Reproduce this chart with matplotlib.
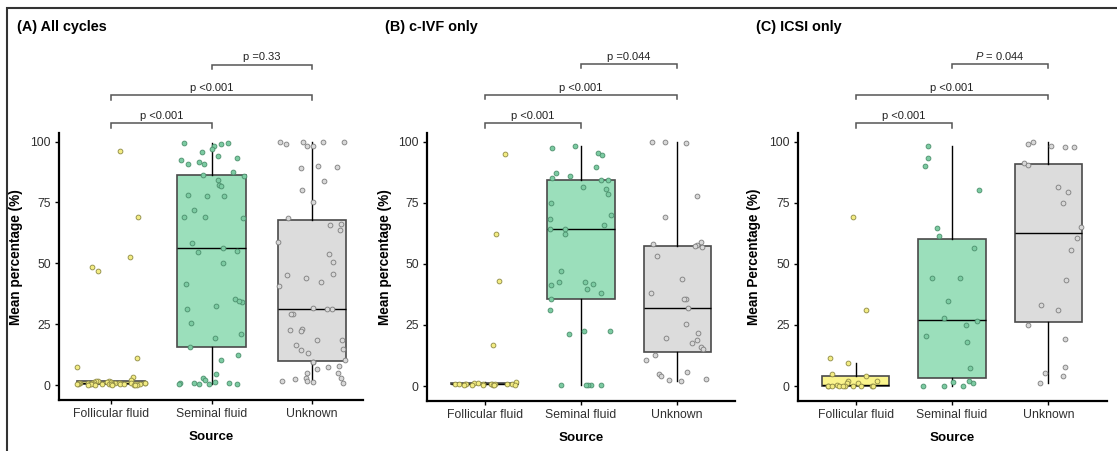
import numpy as np
import matplotlib
matplotlib.use("Agg")
import matplotlib.pyplot as plt
from matplotlib.patches import Rectangle

plt.rcParams['font.family'] = ['Liberation Sans', 'DejaVu Sans']
plt.rcParams['mathtext.fontset'] = 'custom'
plt.rcParams['mathtext.it'] = 'Liberation Sans:italic'
plt.rcParams['mathtext.rm'] = 'Liberation Sans'

# ---------------- data ----------------
categories = ["Follicular fluid", "Seminal fluid", "Unknown"]
panel_titles = ["(A) All cycles", "(B) c-IVF only", "(C) ICSI only"]
y_labels = ["Mean percentage (%)", "Mean percentage (%)", "Mean Percentage (%)"]
x_label = "Source"
y_ticks = [0, 25, 50, 75, 100]

# Panel A
a_follicular = [96.0, 69.1, 52.6, 48.6, 46.7, 11.1, 7.5, 3.4, 2.0, 1.8, 1.6, 1.5, 1.3,
                1.2, 1.1, 1.0, 1.0, 0.9, 0.9, 0.8, 0.8, 0.8, 0.7, 0.7, 0.7, 0.6, 0.6,
                0.6, 0.5, 0.5, 0.5, 0.5, 0.4, 0.4, 0.4, 0.3, 0.3, 0.3, 0.2, 0.2, 0.1,
                0.1, 0.0, 0.0]
a_seminal = [99.0, 99.2, 99.3, 98.2, 96.9, 93.3, 95.6, 94.1, 92.5, 90.8, 91.4, 90.6,
             87.3, 86.1, 85.8, 84.3, 82.0, 81.8, 77.5, 77.9, 77.6, 71.7, 69.1, 68.9,
             68.6, 58.2, 56.2, 54.8, 55.1, 50.1, 41.4, 35.3, 34.3, 34.4, 32.4, 31.1,
             25.7, 20.8, 19.4, 15.7, 12.2, 10.3, 4.5, 2.9, 2.3, 0.7, 0.7, 0.5, 0.4,
             1.2, 0.4, 0.8, 0.6]
a_unknown = [100.0, 100.0, 99.0, 100.0, 99.9, 98.1, 98.1, 89.6, 89.3, 89.8, 83.9, 79.9,
             75.0, 65.7, 63.5, 68.5, 66.1, 58.8, 53.9, 50.5, 45.3, 43.9, 45.5, 40.7,
             42.5, 31.4, 31.7, 31.4, 29.4, 29.2, 23.1, 22.8, 22.4, 18.6, 18.6, 14.3,
             16.4, 14.8, 13.0, 10.3, 9.7, 9.5, 7.7, 7.4, 6.8, 4.8, 4.9, 3.1, 2.9, 1.8,
             1.7, 1.4, 0.9, 2.7]

# Panel B
b_follicular = [95.0, 62.2, 43.0, 16.8, 1.6, 1.3, 1.1, 1.0, 1.0, 0.9, 0.9, 0.8, 0.8,
                0.8, 0.7, 0.7, 0.7, 0.6, 0.6, 0.5, 0.5, 0.5, 0.4]
b_seminal = [97.3, 98.0, 95.5, 94.4, 89.6, 87.3, 84.4, 84.3, 80.4, 81.3, 78.4, 74.7,
             68.4, 64.3, 64.3, 62.3, 46.9, 42.4, 41.3, 39.9, 42.7, 41.7, 31.2, 21.1,
             22.4, 22.4, 0.4, 0.3, 0.3, 0.3, 0.3, 35.5, 38.0, 70.0, 66.0, 85.0, 86.0]
b_unknown = [99.7, 99.7, 99.6, 77.6, 69.0, 59.0, 57.5, 58.3, 57.2, 56.8, 53.0, 43.6,
             35.7, 35.7, 37.9, 31.8, 25.4, 21.6, 18.9, 19.5, 17.5, 15.8, 15.2, 12.7,
             10.5, 5.7, 5.0, 2.2, 3.0, 2.5, 4.1]

# Panel C
c_follicular = [69.1, 31.1, 11.3, 9.3, 5.0, 4.0, 2.1, 2.1, 1.2, 1.1, 0.4,
                0.0, 0.0, 0.0, 0.0, 0.0, 0.0, 0.0, 0.0, 0.0, 0.0]
c_seminal = [98.2, 93.2, 89.9, 80.0, 64.6, 61.5, 56.3, 44.3, 44.0, 34.9, 26.5, 27.8,
             25.0, 20.5, 18.2, 7.5, 1.1, 0.0, 0.0, 0.0, 1.7, 2.1]
c_unknown = [98.8, 99.7, 98.2, 97.7, 97.8, 91.1, 90.6, 79.2, 81.5, 74.7, 64.9, 60.7,
             55.6, 43.5, 33.2, 31.2, 24.8, 19.3, 7.8, 4.2, 5.3, 1.2]

# significance brackets: (from, to, label)
a_brackets = [(0, 1, "p <0.001"), (0, 2, "p <0.001"), (1, 2, "p =0.33")]
b_brackets = [(0, 1, "p <0.001"), (0, 2, "p <0.001"), (1, 2, "p =0.044")]
c_brackets = [(0, 1, "p <0.001"), (0, 2, "p <0.001"), (1, 2, r"$P$ = 0.044")]

# ---------------- style ----------------
box_fill = ["#FAF48C", "#9BDFBB", "#DCDCDC"]
pt_face = ["#F3EC82", "#7CCBA2", "#D8D8D8"]
pt_edge = ["#8E8A45", "#4B8F6C", "#7D7D7D"]

W, H = 1117, 451
fig = plt.figure(figsize=(W / 100, H / 100), dpi=100)

# panel geometry in pixels: left, right, top, bottom
geoms = [(59, 363, 133, 400), (427, 735, 133, 401), (798, 1107, 133, 401)]
xlims = [(-0.52, 2.51), (-0.60, 2.60), (-0.60, 2.61)]
widths = [0.68, 0.70, 0.70]
title_x = [17, 385, 756]
ylabel_x = [23, 392, 761]

panels = [
    ([a_follicular, a_seminal, a_unknown], a_brackets),
    ([b_follicular, b_seminal, b_unknown], b_brackets),
    ([c_follicular, c_seminal, c_unknown], c_brackets),
]
bracket_y = [107.4, 118.9, 131.6]
ylim = (-6.1, 103.5)

rng = np.random.default_rng(7)

for k, ((groups, brackets), (l, r, t, b)) in enumerate(zip(panels, geoms)):
    ax = fig.add_axes([l / W, 1 - b / H, (r - l) / W, (b - t) / H])
    bp = ax.boxplot(groups, positions=[0, 1, 2], widths=widths[k], patch_artist=True,
                    showfliers=False, showcaps=False, whis=1.5,
                    medianprops=dict(color="black", lw=1.0),
                    whiskerprops=dict(color="black", lw=1.0),
                    boxprops=dict(edgecolor="#4A4A4A", lw=1.2), zorder=1)
    for patch, fc in zip(bp['boxes'], box_fill):
        patch.set_facecolor(fc)
    for i, g in enumerate(groups):
        jit = rng.uniform(-0.34, 0.34, len(g))
        ax.scatter(np.full(len(g), i) + jit, g, s=12, facecolor=pt_face[i],
                   edgecolor=pt_edge[i], linewidths=0.6, zorder=3, clip_on=False)
    ax.set_xlim(*xlims[k])
    ax.set_ylim(*ylim)
    ax.set_yticks(y_ticks)
    ax.set_xticks([0, 1, 2])
    ax.set_xticklabels(categories)
    ax.tick_params(axis='both', labelsize=8.8, colors='black', labelcolor='#303030',
                   length=3, width=1.0, pad=3)
    for s in ['top', 'right']:
        ax.spines[s].set_visible(False)
    for s in ['left', 'bottom']:
        ax.spines[s].set_linewidth(1.6)
        ax.spines[s].set_color('black')
    ax.set_xlabel(x_label, fontsize=9.6, fontweight='bold', labelpad=8)
    ax.set_ylabel(y_labels[k], fontsize=9.8, fontweight='bold')
    ax.yaxis.set_label_coords((ylabel_x[k] - l) / (r - l), (b - 257) / (b - t))

    # brackets
    for (i, j, lab), yb in zip(brackets, bracket_y):
        ax.plot([i, i, j, j], [yb - 1.7, yb, yb, yb - 1.7], color="#555555", lw=1.1,
                clip_on=False, zorder=4, solid_joinstyle='miter')
        ax.annotate(lab, xy=((i + j) / 2, yb), xytext=(0, 3), textcoords='offset points',
                    ha='center', va='baseline', fontsize=8.0, color='#222222',
                    annotation_clip=False)

    fig.text(title_x[k] / W, 1 - 27 / H, panel_titles[k], fontsize=10.4,
             fontweight='bold', ha='left', va='center')

# outer frame (top and left edges visible)
fig.patches.append(Rectangle((7 / W, -0.1), 1.2, (1 - 8 / H) + 0.1,
                             transform=fig.transFigure, fill=False,
                             edgecolor='#333333', lw=1.5, zorder=10))

fig.savefig("out.png", dpi=100)
